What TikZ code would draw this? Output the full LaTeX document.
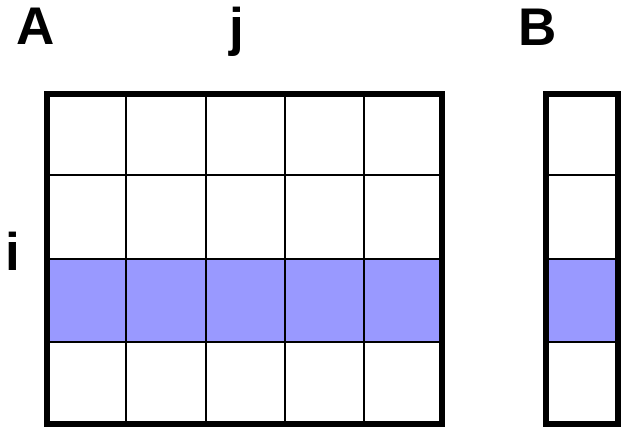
\documentclass[tikz,border=0pt]{standalone}
\usepackage{fontspec}
\setmainfont{Liberation Sans}
\usetikzlibrary{positioning}
\definecolor{RowBlue}{HTML}{9999FF}

\tikzset{
  biglabel/.style={font=\bfseries\fontsize{53}{53}\selectfont, inner sep=0pt, anchor=base},
  gridline/.style={line width=2pt, black},
  frameline/.style={line width=5.5pt, black}
}

\begin{document}
\begin{tikzpicture}[x=1pt,y=-1pt]
        \useasboundingbox (0,0) rectangle (621,428);
        % matrix A
        \fill[RowBlue] (47,259) rectangle (442,342);
        \foreach \xc in {126,206,285,364} {\draw[gridline] (\xc,94) -- (\xc,424);}
        \foreach \yc in {175,259,342} {\draw[gridline] (47,\yc) -- (442,\yc);}
        \draw[frameline] (47,94) rectangle (442,424);
        % vector B
        \fill[RowBlue] (546,259) rectangle (618,342);
        \foreach \yc in {175,259,342} {\draw[gridline] (546,\yc) -- (618,\yc);}
        \draw[frameline] (546,94) rectangle (618,424);
        % labels
        \node[biglabel] (labA) at (36,45) {A};
        \node[biglabel] (labj) at (237,46) {j};
        \node[biglabel] (labB) at (538,46) {B};
        \node[biglabel] (labi) at (13,270) {i};
      \end{tikzpicture}
\end{document}
